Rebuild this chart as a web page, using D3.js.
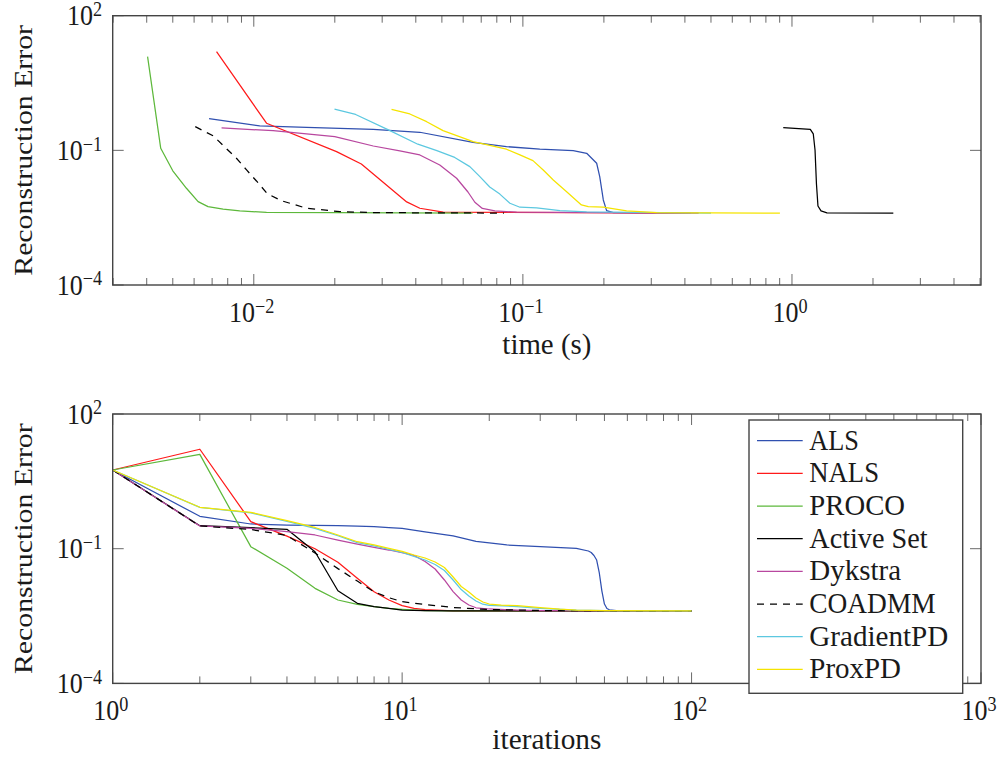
<!DOCTYPE html>
<html>
<head>
<meta charset="utf-8">
<script src="https://cdn.jsdelivr.net/npm/d3@7"></script>
<style>
  body { margin: 0; background: #fff; }
  text { font-family: "Liberation Serif", "DejaVu Serif", serif; fill: #1a1a1a; }
</style>
</head>
<body>
<svg id="chart" width="1003" height="757"></svg>
<script>
// ---- series metadata ----
const seriesNames  = ["ALS", "NALS", "PROCO", "Active Set", "Dykstra", "COADMM", "GradientPD", "ProxPD"];
const seriesColors = ["#3050b0", "#ff1a1a", "#5db83b", "#000000", "#b8479f", "#000000", "#5cc8e0", "#f5e400"];
const seriesDashed = [false, false, false, false, false, true, false, false];

// ---- reconstruction error vs. time (s) ----
const alsTime    = [0.00682, 0.01052, 0.0157, 0.0278, 0.0414, 0.0653, 0.0869, 0.1156, 0.1538, 0.1726, 0.188, 0.193, 0.199, 0.2047, 0.2167, 0.42];
const alsTimeErr = [0.508, 0.349, 0.327, 0.295, 0.253, 0.151, 0.121, 0.106, 0.0985, 0.0861, 0.0516, 0.0259, 0.00785, 0.00454, 0.00409, 0.004];

const nalsTime    = [0.00727, 0.01115, 0.0203, 0.0251, 0.037, 0.0414, 0.0506, 0.45];
const nalsTimeErr = [15.8, 0.402, 0.0936, 0.0498, 0.0071, 0.00513, 0.00418, 0.004];

const procoTime    = [0.00403, 0.00451, 0.005, 0.00562, 0.00621, 0.00676, 0.00769, 0.00887, 0.01115, 0.065];
const procoTimeErr = [12.2, 0.111, 0.035, 0.0143, 0.0072, 0.00557, 0.00488, 0.00447, 0.00415, 0.004];

const activeTime    = [0.928, 1.17, 1.2, 1.218, 1.233, 1.249, 1.282, 1.349, 2.38];
const activeTimeErr = [0.321, 0.292, 0.232, 0.102, 0.0178, 0.00577, 0.00447, 0.00403, 0.004];

const dykstraTime    = [0.00759, 0.0118, 0.02, 0.0278, 0.0349, 0.0414, 0.0491, 0.0567, 0.0625, 0.0663, 0.0707, 0.0787, 0.0948, 0.42];
const dykstraTimeErr = [0.315, 0.275, 0.202, 0.125, 0.097, 0.079, 0.0473, 0.0239, 0.0118, 0.00698, 0.00508, 0.00449, 0.00418, 0.004];

const coadmmTime    = [0.00606, 0.00706, 0.00862, 0.0094, 0.01023, 0.01122, 0.01268, 0.0157, 0.0209, 0.0278, 0.085];
const coadmmTimeErr = [0.337, 0.211, 0.0667, 0.0366, 0.0208, 0.01087, 0.00754, 0.00513, 0.00431, 0.0041, 0.004];

const gradTime    = [0.01995, 0.0239, 0.0315, 0.0407, 0.0479, 0.0558, 0.0635, 0.0692, 0.0753, 0.0821, 0.0895, 0.0975, 0.1125, 0.1373, 0.1726, 0.5];
const gradTimeErr = [0.827, 0.631, 0.290, 0.137, 0.0984, 0.0695, 0.0434, 0.0259, 0.0153, 0.0106, 0.00664, 0.0054, 0.00526, 0.00454, 0.00425, 0.004];

const proxTime    = [0.0325, 0.038, 0.0439, 0.0505, 0.0653, 0.0869, 0.0975, 0.109, 0.119, 0.1297, 0.1454, 0.165, 0.175, 0.199, 0.243, 0.314, 0.902];
const proxTimeErr = [0.822, 0.647, 0.435, 0.275, 0.156, 0.106, 0.079, 0.059, 0.0366, 0.0219, 0.012, 0.00608, 0.00557, 0.00541, 0.00447, 0.0041, 0.004];

// ---- reconstruction error vs. iteration ----
const alsIter    = [1, 2, 3, 4, 5, 6, 7, 8, 9, 10, 12, 15, 18, 20, 23, 30, 40, 44, 45, 46, 47, 48, 49, 50, 51, 52, 55, 100];
const alsIterErr = [5.66, 0.527, 0.355, 0.337, 0.33, 0.325, 0.317, 0.309, 0.296, 0.282, 0.238, 0.192, 0.145, 0.134, 0.121, 0.111, 0.102, 0.0889, 0.0823, 0.0706, 0.056, 0.0288, 0.0114, 0.00586, 0.00466, 0.00436, 0.0042, 0.0041];

const nalsIter    = [1, 2, 3, 4, 5, 6, 7, 8, 9, 10, 11, 12, 15, 100];
const nalsIterErr = [5.66, 16.4, 0.40, 0.19, 0.10, 0.05, 0.022, 0.011, 0.0072, 0.0054, 0.0047, 0.0044, 0.0041, 0.0041];

const procoIter    = [1, 2, 3, 4, 5, 6, 7, 8, 9, 10, 12, 15, 100];
const procoIterErr = [5.66, 12.6, 0.111, 0.0366, 0.0131, 0.0072, 0.00578, 0.0051, 0.0047, 0.00447, 0.0042, 0.0041, 0.0041];

const activeIter    = [1, 2, 3, 4, 5, 6, 7, 8, 9, 10, 12, 15, 100];
const activeIterErr = [5.66, 0.325, 0.294, 0.27, 0.0857, 0.0116, 0.00608, 0.0051, 0.0047, 0.00431, 0.0042, 0.0041, 0.0041];

const dykstraIter    = [1, 2, 3, 4, 5, 6, 7, 8, 9, 10, 11, 12, 13, 14, 15, 16, 17, 18, 20, 25, 30, 100];
const dykstraIterErr = [5.66, 0.321, 0.284, 0.239, 0.202, 0.156, 0.127, 0.107, 0.0935, 0.0814, 0.0706, 0.052, 0.0353, 0.0201, 0.0111, 0.0072, 0.00557, 0.00483, 0.00454, 0.0043, 0.0042, 0.0041];

const coadmmIter    = [1, 2, 3, 4, 5, 6, 7, 8, 9, 10, 12, 15, 20, 30, 100];
const coadmmIterErr = [5.66, 0.321, 0.268, 0.197, 0.08, 0.036, 0.019, 0.011, 0.0081, 0.0066, 0.0057, 0.0049, 0.00442, 0.0042, 0.0041];

const gradIter    = [1, 2, 3, 4, 5, 6, 7, 8, 9, 10, 11, 12, 13, 14, 15, 16, 17, 18, 19, 20, 25, 30, 40, 50, 100];
const gradIterErr = [5.66, 0.83, 0.63, 0.404, 0.284, 0.194, 0.137, 0.115, 0.097, 0.0823, 0.067, 0.056, 0.0445, 0.0327, 0.0201, 0.0123, 0.00885, 0.00684, 0.0058, 0.00548, 0.00516, 0.00471, 0.0043, 0.0042, 0.0041];

const proxIter    = [1, 2, 3, 4, 5, 6, 7, 8, 9, 10, 11, 12, 13, 14, 15, 16, 17, 18, 19, 20, 22, 25, 30, 35, 40, 50, 100];
const proxIterErr = [5.66, 0.836, 0.647, 0.421, 0.297, 0.202, 0.143, 0.121, 0.102, 0.0874, 0.0724, 0.0621, 0.0506, 0.0381, 0.0234, 0.0144, 0.0109, 0.008, 0.0065, 0.00586, 0.00552, 0.00537, 0.00485, 0.0045, 0.0043, 0.0042, 0.0041];

// ---- tick labels (exponents of ten) ----
const timeTickExps = [-2, -1, 0];
const iterTickExps = [0, 1, 2, 3];
const errTickExps  = [2, -1, -4];

const timeSeries = [
  [alsTime, alsTimeErr], [nalsTime, nalsTimeErr], [procoTime, procoTimeErr], [activeTime, activeTimeErr],
  [dykstraTime, dykstraTimeErr], [coadmmTime, coadmmTimeErr], [gradTime, gradTimeErr], [proxTime, proxTimeErr]
];
const iterSeries = [
  [alsIter, alsIterErr], [nalsIter, nalsIterErr], [procoIter, procoIterErr], [activeIter, activeIterErr],
  [dykstraIter, dykstraIterErr], [coadmmIter, coadmmIterErr], [gradIter, gradIterErr], [proxIter, proxIterErr]
];

// ---- layout ----
const svg = d3.select("#chart");
const FONT = 26;
const STRETCH = 1.1;       // slightly tall glyphs
const left = 112.7, right = 981;
const panels = [
  { top: 15.7, bottom: 285, xDomain: [0.00299, 5.04], xTitle: "time (s)", xTitleLen: 89, titleGap: 69, ticks: timeTickExps, series: timeSeries },
  { top: 414, bottom: 683.4, xDomain: [1, 1000], xTitle: "iterations", xTitleLen: 109, titleGap: 66, ticks: iterTickExps, series: iterSeries }
];

function stretchedText(parent, x, y, rotate) {
  const g = parent.append("g").attr("transform",
    `translate(${x},${y}) scale(1,${STRETCH})` + (rotate ? ` rotate(${rotate})` : ""));
  return g.append("text").attr("font-size", FONT);
}

function powerLabel(parent, x, y, exp, anchor) {
  const t = stretchedText(parent, x, y).attr("text-anchor", anchor);
  t.append("tspan").text("10");
  t.append("tspan").attr("font-size", FONT * 0.7).attr("dy", -8.5)
    .text(exp < 0 ? "\u2212" + (-exp) : String(exp));
}

panels.forEach(p => {
  const x = d3.scaleLog().domain(p.xDomain).range([left, right]);
  const y = d3.scaleLog().domain([1e-4, 1e2]).range([p.bottom, p.top]);
  const g = svg.append("g");

  // minor and major ticks, drawn inward on both sides
  const lo = Math.floor(Math.log10(p.xDomain[0])), hi = Math.ceil(Math.log10(p.xDomain[1]));
  const minor = [], major = [];
  for (let k = lo; k <= hi; k++) {
    for (let m = 1; m <= 9; m++) {
      const v = m * Math.pow(10, k);
      if (v < p.xDomain[0] * 0.999 || v > p.xDomain[1] * 1.001) continue;
      (m === 1 ? major : minor).push(v);
    }
  }
  const tickG = g.append("g").attr("stroke", "#6a6a6a").attr("stroke-width", 1);
  minor.forEach(v => {
    tickG.append("line").attr("x1", x(v)).attr("x2", x(v)).attr("y1", p.bottom).attr("y2", p.bottom - 7);
    tickG.append("line").attr("x1", x(v)).attr("x2", x(v)).attr("y1", p.top).attr("y2", p.top + 7);
  });
  major.forEach(v => {
    tickG.append("line").attr("x1", x(v)).attr("x2", x(v)).attr("y1", p.bottom).attr("y2", p.bottom - 11);
    tickG.append("line").attr("x1", x(v)).attr("x2", x(v)).attr("y1", p.top).attr("y2", p.top + 11);
  });
  errTickExps.forEach(e => {
    const v = Math.pow(10, e);
    tickG.append("line").attr("x1", left).attr("x2", left + 11).attr("y1", y(v)).attr("y2", y(v));
    tickG.append("line").attr("x1", right).attr("x2", right - 11).attr("y1", y(v)).attr("y2", y(v));
  });

  // series lines
  const clipId = "clip" + Math.round(p.top);
  svg.append("clipPath").attr("id", clipId).append("rect")
    .attr("x", left).attr("y", p.top).attr("width", right - left).attr("height", p.bottom - p.top);
  const line = d3.line().x(d => x(d[0])).y(d => y(d[1]));
  const lineG = g.append("g").attr("clip-path", `url(#${clipId})`);
  p.series.forEach((s, i) => {
    const pts = s[0].map((v, j) => [v, s[1][j]]);
    lineG.append("path").datum(pts)
      .attr("d", line)
      .attr("fill", "none")
      .attr("stroke", seriesColors[i])
      .attr("stroke-width", 1.25)
      .attr("stroke-linejoin", "round")
      .attr("stroke-dasharray", seriesDashed[i] ? "7,6" : null);
  });

  // frame
  g.append("rect").attr("x", left).attr("y", p.top)
    .attr("width", right - left).attr("height", p.bottom - p.top)
    .attr("fill", "none").attr("stroke", "#444").attr("stroke-width", 1.4);

  // tick labels
  p.ticks.forEach(e => powerLabel(g, x(Math.pow(10, e)) - 2, p.bottom + 37, e, "middle"));
  errTickExps.forEach(e => powerLabel(g, 102, y(Math.pow(10, e)) + 9.5, e, "end"));

  // axis titles
  stretchedText(g, (left + right) / 2, p.bottom + p.titleGap)
    .attr("text-anchor", "middle")
    .attr("textLength", p.xTitleLen).attr("lengthAdjust", "spacingAndGlyphs")
    .text(p.xTitle);
  stretchedText(g, 31.5, (p.top + p.bottom) / 2, -90)
    .attr("text-anchor", "middle")
    .attr("textLength", 228).attr("lengthAdjust", "spacingAndGlyphs")
    .text("Reconstruction Error");
});

// ---- legend (lower panel) ----
const legendWidths = [49.7, 69.7, 95.7, 118.3, 91.7, 126.3, 139, 91.7];
const legend = svg.append("g");
legend.append("rect").attr("x", 749).attr("y", 420).attr("width", 213.7).attr("height", 273.3)
  .attr("fill", "#fff").attr("stroke", "#444").attr("stroke-width", 1.4);
seriesNames.forEach((name, i) => {
  const cy = 440.7 + i * 32.67;
  legend.append("line").attr("x1", 757).attr("x2", 802.7).attr("y1", cy).attr("y2", cy)
    .attr("stroke", seriesColors[i]).attr("stroke-width", 1.25)
    .attr("stroke-dasharray", seriesDashed[i] ? "7,6" : null);
  stretchedText(legend, 809.3, cy + 8.8)
    .attr("textLength", legendWidths[i]).attr("lengthAdjust", "spacingAndGlyphs")
    .text(name);
});
</script>
</body>
</html>
